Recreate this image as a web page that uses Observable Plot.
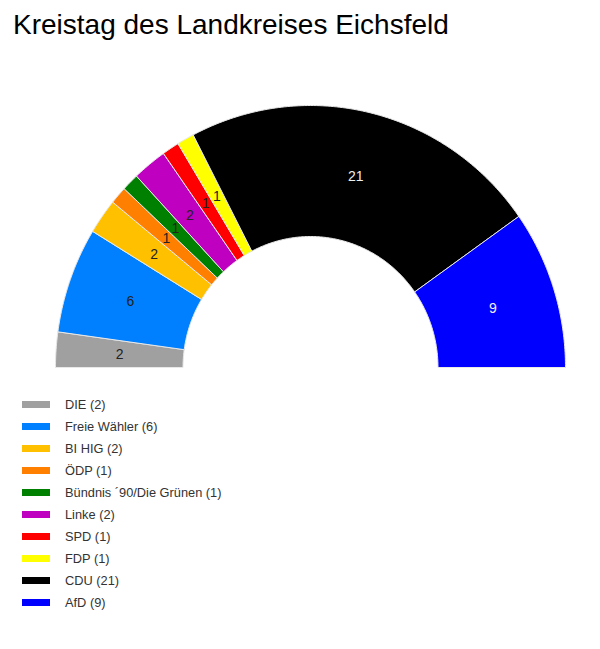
<!DOCTYPE html>
<html><head><meta charset="utf-8">
<script src="https://cdn.jsdelivr.net/npm/d3@7"></script>
<script src="https://cdn.jsdelivr.net/npm/@observablehq/plot@0.6"></script>
<style>
body{margin:0;background:#fff;font-family:"Liberation Sans",Arial,sans-serif;}
#wrap{position:relative;width:600px;height:649px;}
#title{position:absolute;left:13px;top:10.5px;font-size:28px;line-height:28px;color:#000;white-space:nowrap;}
#chart{position:absolute;left:0;top:0;}
#legend{position:absolute;left:22px;top:393px;}
.row{display:flex;align-items:center;height:22px;font-size:12.8px;color:#333;}
.sw{width:28px;height:7px;margin-right:15px;}
</style></head>
<body><div id="wrap"><div id="chart"></div><div id="title">Kreistag des Landkreises Eichsfeld</div><div id="legend"></div></div>
<script>
const parties = ["DIE","Freie Wähler","BI HIG","ÖDP","Bündnis ´90/Die Grünen","Linke","SPD","FDP","CDU","AfD"];
const seats = [2,6,2,1,1,2,1,1,21,9];
const colors = ["#a0a0a0","#0080ff","#ffc000","#ff8000","#008000","#c000c0","#ff0000","#ffff00","#000000","#0000ff"];
const labelColors = ["#222","#222","#222","#222","#222","#222","#222","#222","#f0f0f0","#f0f0f0"];

const innerR = 0.5, outerR = 1;
const total = d3.sum(seats);
let cum = 0;
const slices = parties.map((p,i)=>{const s={party:p,i,a0:Math.PI*(1-cum/total)}; cum+=seats[i]; s.a1=Math.PI*(1-cum/total); return s;});
const pts = [];
for (const s of slices) {
  const n = Math.max(4, Math.ceil(seats[s.i]*6));
  const ring = [];
  for (let k=0;k<=n;k++){const a=s.a0+(s.a1-s.a0)*k/n; ring.push([outerR*Math.cos(a),outerR*Math.sin(a)]);}
  for (let k=n;k>=0;k--){const a=s.a0+(s.a1-s.a0)*k/n; ring.push([innerR*Math.cos(a),innerR*Math.sin(a)]);}
  ring.push(ring[0]);
  ring.forEach(([x,y])=>pts.push({party:s.party,x,y}));
}
const labels = slices.map(s=>{const a=(s.a0+s.a1)/2, r=(innerR+outerR)/2; return {party:s.party,x:r*Math.cos(a),y:r*Math.sin(a),text:String(seats[s.i]),c:labelColors[s.i]};});

const chart = Plot.plot({
  width:600, height:380,
  marginLeft:55, marginRight:35, marginTop:105, marginBottom:13,
  x:{domain:[-1,1],axis:null},
  y:{domain:[0,1],axis:null},
  color:{domain:parties,range:colors},
  style:{fontFamily:"'Liberation Sans', Arial, sans-serif",background:"transparent"},
  marks:[
    Plot.line(pts,{x:"x",y:"y",z:"party",fill:"party",stroke:"#e8e8e8",strokeWidth:1,curve:"linear"}),
    Plot.text(labels,{x:"x",y:"y",text:"text",fill:d=>d.c,fontSize:14})
  ]
});
document.getElementById("chart").appendChild(chart);

const lg = document.getElementById("legend");
parties.forEach((p,i)=>{
  const r=document.createElement("div");r.className="row";
  r.innerHTML=`<span class="sw" style="background:${colors[i]}"></span><span>${p} (${seats[i]})</span>`;
  lg.appendChild(r);
});
</script></body></html>
